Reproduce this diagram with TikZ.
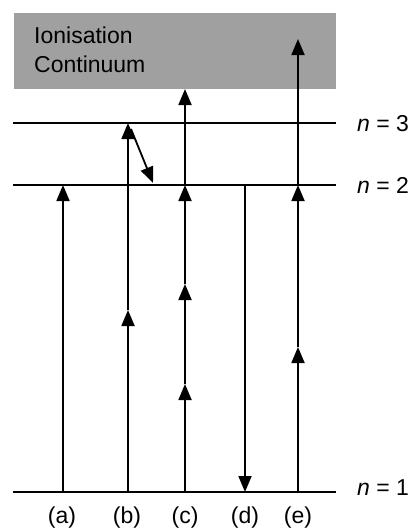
\documentclass[tikz,border=0pt]{standalone}
\usepackage{fontspec}
\setmainfont{Liberation Sans}
\usetikzlibrary{arrows.meta}
\definecolor{contgray}{RGB}{160,160,160}
\begin{document}
\begin{tikzpicture}[x=1pt,y=-1pt,
  level/.style={line width=2pt},
  trans/.style={line width=1.8pt,-{Triangle[length=16pt,width=13pt]}},
  lbl/.style={font=\fontsize{23}{27}\selectfont,inner sep=0pt},
  collbl/.style={font=\fontsize{23}{27}\selectfont,inner sep=0pt}]
\useasboundingbox (0,0) rectangle (411,530);
% continuum
\fill[contgray] (14,13) rectangle (336,89);
\node[lbl,anchor=base west] (ion) at (34,43.5) {Ionisation};
\node[lbl,anchor=base west] (cont) at (34,72) {Continuum};
% levels
\coordinate (L3a) at (13,123); \coordinate (L3b) at (336,123);
\coordinate (L2a) at (13,185); \coordinate (L2b) at (336,185);
\coordinate (L1a) at (13,492); \coordinate (L1b) at (336,492);
\draw[level] (L3a) -- (L3b);
\draw[level] (L2a) -- (L2b);
\draw[level] (L1a) -- (L1b);
\node[lbl,anchor=base west] (n3) at (357,131) {\textit{n} = 3};
\node[lbl,anchor=base west] (n2) at (357,193) {\textit{n} = 2};
\node[lbl,anchor=base west] (n1) at (357,495) {\textit{n} = 1};
% (a)
\coordinate (a1) at (63,492); \coordinate (a2) at (63,185);
\draw[trans] (a1) -- (a2);
% (b)
\coordinate (b1) at (128,492); \coordinate (bm) at (128,310); \coordinate (b3) at (128,123);
\coordinate (bs) at (131,129); \coordinate (be) at (153,183);
\draw[trans] (b1) -- (bm);
\draw[trans] (bm) -- (b3);
\draw[trans] (bs) -- (be);
% (c)
\coordinate (c1) at (185,492); \coordinate (cm1) at (185,384); \coordinate (cm2) at (185,284);
\coordinate (c2) at (185,185); \coordinate (c4) at (185,89);
\draw[trans] (c1) -- (cm1);
\draw[trans] (cm1) -- (cm2);
\draw[trans] (cm2) -- (c2);
\draw[trans] (c2) -- (c4);
% (d)
\coordinate (d2) at (245,185); \coordinate (d1) at (245,492);
\draw[trans] (d2) -- (d1);
% (e)
\coordinate (e1) at (298,492); \coordinate (em) at (298,347); \coordinate (e2) at (298,185);
\coordinate (e4) at (298,39);
\draw[trans] (e1) -- (em);
\draw[trans] (em) -- (e2);
\draw[trans] (e2) -- (e4);
% column labels
\node[collbl] (la) at (62,518) {(a)};
\node[collbl] (lb) at (127,518) {(b)};
\node[collbl] (lc) at (185,518) {(c)};
\node[collbl] (ld) at (245,518) {(d)};
\node[collbl] (le) at (298,518) {(e)};
\end{tikzpicture}
\end{document}
